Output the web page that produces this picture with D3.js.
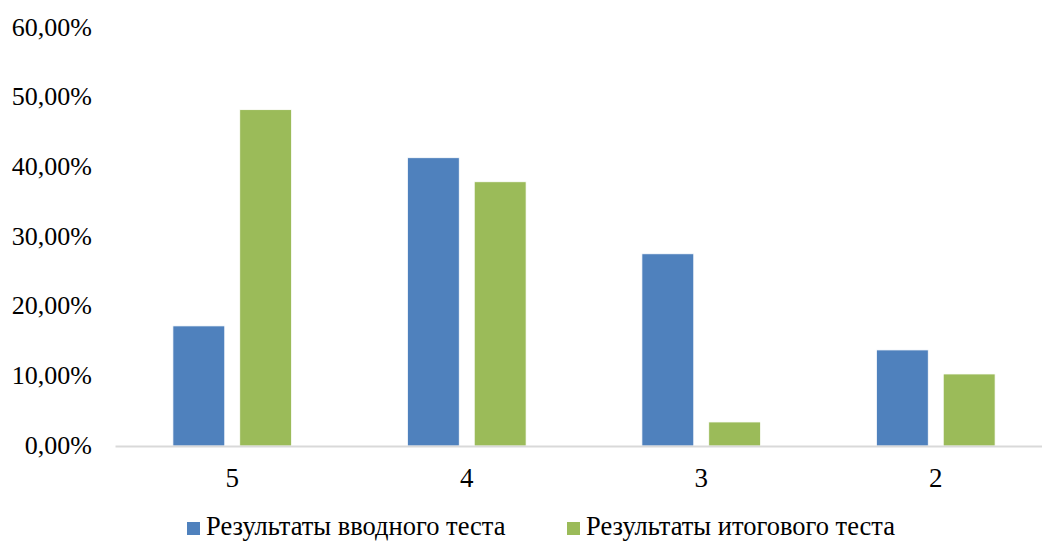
<!DOCTYPE html>
<html><head><meta charset="utf-8">
<script src="https://cdn.jsdelivr.net/npm/d3@7"></script>
<style>body{margin:0;background:#fff}svg{display:block}</style>
</head><body>
<script>
const categories = ["5", "4", "3", "2"];
const seriesNames = ["Результаты вводного теста", "Результаты итогового теста"];
const introValues = [0.1724, 0.4138, 0.2759, 0.1379];
const finalValues = [0.4828, 0.3793, 0.0345, 0.1034];
const yTicks = [0, 0.1, 0.2, 0.3, 0.4, 0.5, 0.6];
const colors = ["#4f81bd", "#9bbb59"];

const W = 1042, H = 542;
const svg = d3.select("body").append("svg").attr("width", W).attr("height", H);
const font = "Liberation Serif";

const x0 = d3.scaleBand().domain(categories).range([115, 1053]).paddingInner(0).paddingOuter(0);
const x1 = d3.scaleBand().domain([0, 1]).range([0, x0.bandwidth()]).paddingInner(0.224).paddingOuter(0.866);
const y = d3.scaleLinear().domain([0, 0.6]).range([446, 28]);

const fmt = v => d3.format(".2f")(v * 100).replace(".", ",") + "%";

const yAxis = d3.axisLeft(y).tickValues(yTicks).tickFormat(fmt).tickSize(0).tickPadding(0);
const gy = svg.append("g").attr("transform", "translate(92,0)").call(yAxis);
gy.select(".domain").remove();
gy.selectAll("text").style("font-family", font).attr("font-size", 26).attr("fill", "#000")
  .attr("x", 0).attr("y", -2).attr("dy", "0.35em");

const rows = categories.map((c, i) => ({c, v: [introValues[i], finalValues[i]]}));
const g = svg.append("g");
g.selectAll("g.cat").data(rows).join("g").attr("class", "cat")
  .attr("transform", d => `translate(${x0(d.c)},0)`)
  .selectAll("rect").data(d => d.v.map((v, k) => ({v, k}))).join("rect")
  .attr("x", d => x1(d.k)).attr("width", x1.bandwidth())
  .attr("y", d => y(d.v)).attr("height", d => y(0) - y(d.v))
  .attr("fill", d => colors[d.k]).attr("stroke", "#fff").attr("stroke-width", 0.8);

const xAxis = d3.axisBottom(x0).tickSize(0).tickPadding(0);
const gx = svg.append("g").attr("transform", `translate(0,${y(0)})`).call(xAxis);
gx.select(".domain").attr("stroke", "#d9d9d9").attr("stroke-width", 2);
gx.selectAll("text").style("font-family", font).attr("font-size", 27).attr("fill", "#000")
  .attr("y", 41).attr("dy", 0);

const legendX = [187, 567];
const lg = svg.append("g");
seriesNames.forEach((name, i) => {
  lg.append("rect").attr("x", legendX[i]).attr("y", 522).attr("width", 13).attr("height", 13).attr("fill", colors[i]);
  lg.append("text").attr("x", legendX[i] + 19).attr("y", 535).text(name)
    .style("font-family", font).attr("font-size", 26.5).attr("fill", "#000");
});
</script>
</body></html>
